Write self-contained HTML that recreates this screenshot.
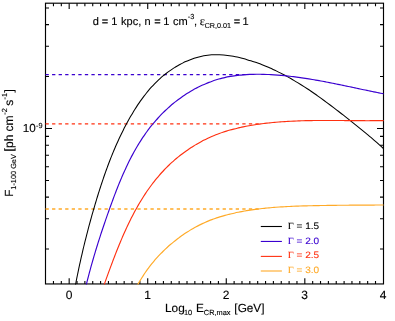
<!DOCTYPE html>
<html><head><meta charset="utf-8"><title>plot</title>
<style>html,body{margin:0;padding:0;background:#fff;overflow:hidden}svg{display:block}</style></head>
<body>
<svg width="395" height="321" viewBox="0 0 395 321" style="display:block">
<rect width="395" height="321" fill="#fff"/>
<defs><clipPath id="cp"><rect x="45.00" y="2.70" width="338.60" height="281.80"/></clipPath></defs>
<rect x="45.50" y="3.20" width="338.00" height="280.75" fill="none" stroke="#000" stroke-width="1.15"/>
<path d="M53.46 283.95 v-3.00 M53.46 3.20 v3.00 M61.32 283.95 v-3.00 M61.32 3.20 v3.00 M69.17 283.95 v-5.80 M69.17 3.20 v5.80 M77.03 283.95 v-3.00 M77.03 3.20 v3.00 M84.88 283.95 v-3.00 M84.88 3.20 v3.00 M92.73 283.95 v-3.00 M92.73 3.20 v3.00 M100.59 283.95 v-3.00 M100.59 3.20 v3.00 M108.44 283.95 v-3.00 M108.44 3.20 v3.00 M116.30 283.95 v-3.00 M116.30 3.20 v3.00 M124.16 283.95 v-3.00 M124.16 3.20 v3.00 M132.01 283.95 v-3.00 M132.01 3.20 v3.00 M139.87 283.95 v-3.00 M139.87 3.20 v3.00 M147.72 283.95 v-5.80 M147.72 3.20 v5.80 M155.57 283.95 v-3.00 M155.57 3.20 v3.00 M163.43 283.95 v-3.00 M163.43 3.20 v3.00 M171.28 283.95 v-3.00 M171.28 3.20 v3.00 M179.14 283.95 v-3.00 M179.14 3.20 v3.00 M187.00 283.95 v-3.00 M187.00 3.20 v3.00 M194.85 283.95 v-3.00 M194.85 3.20 v3.00 M202.70 283.95 v-3.00 M202.70 3.20 v3.00 M210.56 283.95 v-3.00 M210.56 3.20 v3.00 M218.42 283.95 v-3.00 M218.42 3.20 v3.00 M226.27 283.95 v-5.80 M226.27 3.20 v5.80 M234.12 283.95 v-3.00 M234.12 3.20 v3.00 M241.98 283.95 v-3.00 M241.98 3.20 v3.00 M249.83 283.95 v-3.00 M249.83 3.20 v3.00 M257.69 283.95 v-3.00 M257.69 3.20 v3.00 M265.55 283.95 v-3.00 M265.55 3.20 v3.00 M273.40 283.95 v-3.00 M273.40 3.20 v3.00 M281.25 283.95 v-3.00 M281.25 3.20 v3.00 M289.11 283.95 v-3.00 M289.11 3.20 v3.00 M296.96 283.95 v-3.00 M296.96 3.20 v3.00 M304.82 283.95 v-5.80 M304.82 3.20 v5.80 M312.67 283.95 v-3.00 M312.67 3.20 v3.00 M320.53 283.95 v-3.00 M320.53 3.20 v3.00 M328.39 283.95 v-3.00 M328.39 3.20 v3.00 M336.24 283.95 v-3.00 M336.24 3.20 v3.00 M344.10 283.95 v-3.00 M344.10 3.20 v3.00 M351.95 283.95 v-3.00 M351.95 3.20 v3.00 M359.81 283.95 v-3.00 M359.81 3.20 v3.00 M367.66 283.95 v-3.00 M367.66 3.20 v3.00 M375.51 283.95 v-3.00 M375.51 3.20 v3.00 M45.50 249.07 h3.50 M383.50 249.07 h-3.50 M45.50 218.70 h3.50 M383.50 218.70 h-3.50 M45.50 197.14 h3.50 M383.50 197.14 h-3.50 M45.50 180.43 h3.50 M383.50 180.43 h-3.50 M45.50 166.77 h3.50 M383.50 166.77 h-3.50 M45.50 155.22 h3.50 M383.50 155.22 h-3.50 M45.50 145.22 h3.50 M383.50 145.22 h-3.50 M45.50 136.39 h3.50 M383.50 136.39 h-3.50 M45.50 128.50 h6.50 M383.50 128.50 h-6.50 M45.50 76.57 h3.50 M383.50 76.57 h-3.50 M45.50 46.20 h3.50 M383.50 46.20 h-3.50 M45.50 24.64 h3.50 M383.50 24.64 h-3.50 M45.50 7.93 h3.50 M383.50 7.93 h-3.50" stroke="#000" stroke-width="1.1" fill="none"/>
<line x1="45.50" y1="74.55" x2="246.00" y2="74.55" stroke="#3a00d0" stroke-width="1.15" stroke-dasharray="3.3 3.26"/>
<line x1="45.50" y1="123.95" x2="260.50" y2="123.95" stroke="#ff3010" stroke-width="1.3" stroke-dasharray="3.3 3.26"/>
<line x1="45.50" y1="209.00" x2="261.00" y2="209.00" stroke="#ffaa28" stroke-width="1.3" stroke-dasharray="3.3 3.26"/>
<g clip-path="url(#cp)" fill="none" stroke-width="1.2" stroke-linejoin="round">
<path d="M74.54 289.91 C74.66 289.26 75.02 287.30 75.27 285.99 C75.52 284.68 75.78 283.38 76.03 282.07 C76.28 280.76 76.54 279.45 76.80 278.15 C77.06 276.84 77.33 275.54 77.60 274.24 C77.87 272.94 78.14 271.64 78.41 270.34 C78.68 269.04 78.96 267.73 79.24 266.43 C79.52 265.13 79.81 263.84 80.09 262.54 C80.38 261.24 80.66 259.95 80.95 258.65 C81.24 257.35 81.54 256.06 81.84 254.76 C82.14 253.47 82.44 252.17 82.74 250.88 C83.04 249.59 83.35 248.29 83.66 247.00 C83.97 245.71 84.28 244.42 84.60 243.13 C84.92 241.84 85.24 240.55 85.56 239.26 C85.88 237.97 86.21 236.68 86.54 235.39 C86.87 234.10 87.21 232.82 87.54 231.54 C87.88 230.25 88.21 228.97 88.55 227.68 C88.89 226.40 89.23 225.11 89.58 223.83 C89.93 222.55 90.28 221.27 90.63 219.99 C90.98 218.71 91.34 217.42 91.70 216.14 C92.06 214.86 92.42 213.59 92.79 212.31 C93.16 211.03 93.53 209.76 93.90 208.48 C94.27 207.20 94.64 205.93 95.02 204.65 C95.40 203.38 95.78 202.10 96.16 200.83 C96.54 199.56 96.93 198.28 97.32 197.01 C97.71 195.74 98.10 194.46 98.50 193.19 C98.90 191.92 99.30 190.66 99.71 189.39 C100.11 188.12 100.52 186.85 100.93 185.59 C101.34 184.33 101.77 183.06 102.19 181.80 C102.61 180.54 103.04 179.28 103.47 178.02 C103.90 176.76 104.33 175.50 104.77 174.25 C105.21 173.00 105.66 171.74 106.11 170.49 C106.56 169.24 107.02 167.99 107.48 166.74 C107.94 165.49 108.41 164.25 108.88 163.01 C109.35 161.77 109.83 160.53 110.32 159.29 C110.80 158.05 111.29 156.81 111.79 155.58 C112.29 154.35 112.79 153.13 113.30 151.90 C113.81 150.67 114.33 149.44 114.85 148.22 C115.37 147.00 115.90 145.78 116.44 144.57 C116.98 143.36 117.52 142.15 118.07 140.94 C118.62 139.73 119.18 138.52 119.75 137.32 C120.32 136.12 120.89 134.92 121.47 133.73 C122.05 132.54 122.64 131.35 123.24 130.16 C123.84 128.97 124.44 127.79 125.06 126.61 C125.68 125.43 126.30 124.25 126.93 123.08 C127.56 121.91 128.20 120.74 128.85 119.58 C129.50 118.42 130.16 117.25 130.83 116.10 C131.50 114.95 132.17 113.80 132.86 112.66 C133.55 111.52 134.24 110.39 134.95 109.26 C135.66 108.13 136.38 107.01 137.11 105.90 C137.84 104.79 138.59 103.67 139.34 102.58 C140.09 101.48 140.86 100.41 141.64 99.33 C142.42 98.25 143.21 97.19 144.01 96.13 C144.81 95.07 145.63 94.03 146.46 93.00 C147.29 91.97 148.13 90.95 148.99 89.95 C149.85 88.95 150.72 87.95 151.61 86.97 C152.50 85.99 153.40 85.03 154.32 84.08 C155.24 83.13 156.17 82.19 157.12 81.27 C158.07 80.35 159.03 79.45 160.01 78.57 C160.99 77.68 161.99 76.81 163.01 75.96 C164.03 75.11 165.06 74.28 166.11 73.47 C167.16 72.66 168.23 71.85 169.31 71.08 C170.39 70.31 171.64 69.47 172.61 68.83 C173.58 68.19 174.29 67.75 175.14 67.22 C175.99 66.69 176.85 66.18 177.72 65.68 C178.59 65.18 179.47 64.70 180.35 64.23 C181.23 63.76 182.13 63.31 183.03 62.87 C183.93 62.43 184.84 62.00 185.75 61.59 C186.66 61.18 187.42 60.84 188.50 60.41 C189.58 59.97 190.99 59.43 192.24 58.98 C193.50 58.53 194.76 58.11 196.03 57.72 C197.30 57.33 198.59 56.98 199.88 56.66 C201.17 56.34 202.47 56.05 203.77 55.81 C205.07 55.57 206.38 55.36 207.69 55.20 C209.00 55.04 210.32 54.92 211.64 54.83 C212.96 54.74 214.29 54.70 215.61 54.68 C216.94 54.66 218.27 54.69 219.59 54.74 C220.91 54.79 222.24 54.88 223.56 55.00 C224.88 55.12 226.21 55.26 227.53 55.43 C228.85 55.60 230.17 55.80 231.48 56.02 C232.79 56.24 234.10 56.49 235.41 56.75 C236.72 57.01 238.02 57.30 239.32 57.60 C240.62 57.90 241.90 58.23 243.19 58.57 C244.48 58.91 245.76 59.26 247.04 59.63 C248.32 60.00 249.59 60.37 250.86 60.77 C252.13 61.17 253.39 61.58 254.65 62.01 C255.91 62.44 257.15 62.88 258.40 63.33 C259.64 63.78 260.88 64.26 262.12 64.74 C263.36 65.22 264.58 65.71 265.81 66.22 C267.04 66.73 268.25 67.26 269.47 67.79 C270.69 68.32 271.90 68.86 273.10 69.42 C274.31 69.98 275.51 70.55 276.70 71.13 C277.89 71.71 279.08 72.30 280.26 72.90 C281.44 73.50 282.62 74.11 283.80 74.73 C284.98 75.35 286.15 75.99 287.31 76.63 C288.47 77.27 289.63 77.92 290.78 78.58 C291.93 79.24 293.09 79.91 294.23 80.58 C295.37 81.25 296.51 81.94 297.64 82.63 C298.77 83.32 299.90 84.02 301.03 84.73 C302.15 85.44 303.27 86.15 304.39 86.87 C305.50 87.59 306.61 88.32 307.72 89.05 C308.83 89.78 309.93 90.52 311.03 91.27 C312.13 92.02 313.22 92.76 314.31 93.52 C315.40 94.28 316.50 95.04 317.58 95.81 C318.66 96.58 319.74 97.35 320.82 98.13 C321.90 98.91 322.97 99.69 324.04 100.47 C325.11 101.25 326.18 102.05 327.25 102.84 C328.32 103.63 329.38 104.43 330.44 105.23 C331.50 106.03 332.56 106.83 333.62 107.64 C334.68 108.45 335.73 109.26 336.78 110.07 C337.83 110.88 338.89 111.70 339.94 112.51 C340.99 113.33 342.03 114.14 343.08 114.96 C344.12 115.78 345.17 116.60 346.21 117.42 C347.25 118.24 348.30 119.07 349.34 119.89 C350.38 120.71 351.42 121.53 352.46 122.36 C353.50 123.19 354.53 124.01 355.57 124.84 C356.61 125.67 357.64 126.50 358.67 127.33 C359.70 128.16 360.73 128.99 361.76 129.83 C362.79 130.67 363.82 131.51 364.84 132.35 C365.86 133.19 366.88 134.04 367.90 134.89 C368.92 135.74 369.93 136.59 370.94 137.45 C371.95 138.31 372.96 139.18 373.96 140.05 C374.96 140.92 375.96 141.79 376.96 142.67 C377.95 143.55 378.94 144.43 379.93 145.32 C380.92 146.21 381.90 147.11 382.88 148.01 C383.86 148.91 384.95 149.94 385.80 150.74 C386.65 151.54 387.37 152.24 387.97 152.82 C388.57 153.40 389.17 153.99 389.41 154.22" stroke="#000000" stroke-width="1.05"/>
<path d="M85.02 289.95 C85.16 289.38 85.57 287.66 85.85 286.52 C86.13 285.38 86.41 284.24 86.69 283.10 C86.97 281.96 87.26 280.82 87.55 279.69 C87.84 278.56 88.14 277.43 88.43 276.30 C88.73 275.17 89.02 274.04 89.32 272.91 C89.62 271.79 89.92 270.67 90.23 269.55 C90.54 268.43 90.84 267.31 91.15 266.19 C91.46 265.07 91.77 263.95 92.09 262.84 C92.41 261.72 92.73 260.61 93.05 259.50 C93.37 258.39 93.69 257.28 94.02 256.17 C94.35 255.06 94.68 253.95 95.01 252.85 C95.34 251.75 95.68 250.64 96.01 249.54 C96.34 248.44 96.68 247.33 97.02 246.23 C97.36 245.13 97.70 244.03 98.05 242.93 C98.40 241.83 98.75 240.74 99.10 239.64 C99.45 238.54 99.80 237.44 100.16 236.34 C100.52 235.24 100.87 234.15 101.23 233.05 C101.59 231.96 101.95 230.87 102.32 229.77 C102.68 228.68 103.05 227.57 103.42 226.48 C103.79 225.38 104.16 224.29 104.53 223.20 C104.90 222.11 105.28 221.01 105.66 219.92 C106.04 218.82 106.42 217.72 106.80 216.63 C107.18 215.53 107.56 214.44 107.95 213.35 C108.34 212.25 108.73 211.16 109.12 210.06 C109.51 208.96 109.91 207.87 110.30 206.77 C110.69 205.67 111.09 204.58 111.49 203.48 C111.89 202.38 112.30 201.28 112.70 200.18 C113.11 199.08 113.51 198.00 113.92 196.90 C114.33 195.81 114.75 194.71 115.17 193.61 C115.59 192.52 116.01 191.42 116.43 190.33 C116.86 189.24 117.29 188.15 117.72 187.06 C118.15 185.97 118.59 184.88 119.03 183.79 C119.47 182.70 119.93 181.62 120.38 180.54 C120.83 179.46 121.29 178.38 121.75 177.30 C122.21 176.22 122.68 175.15 123.15 174.08 C123.62 173.01 124.10 171.94 124.58 170.87 C125.06 169.80 125.55 168.74 126.05 167.68 C126.55 166.62 127.04 165.56 127.55 164.51 C128.06 163.46 128.57 162.41 129.09 161.36 C129.61 160.32 130.14 159.28 130.67 158.24 C131.20 157.20 131.74 156.17 132.29 155.14 C132.84 154.11 133.40 153.09 133.96 152.07 C134.52 151.05 135.09 150.03 135.67 149.02 C136.25 148.01 136.84 147.01 137.43 146.01 C138.03 145.01 138.63 144.02 139.24 143.03 C139.85 142.04 140.47 141.06 141.10 140.09 C141.73 139.12 142.36 138.14 143.01 137.18 C143.66 136.22 144.31 135.26 144.98 134.31 C145.65 133.36 146.32 132.42 147.01 131.48 C147.69 130.54 148.39 129.61 149.09 128.69 C149.79 127.77 150.50 126.86 151.23 125.95 C151.95 125.04 152.69 124.14 153.44 123.25 C154.19 122.36 154.93 121.47 155.70 120.60 C156.47 119.72 157.25 118.86 158.04 118.00 C158.83 117.14 159.62 116.29 160.43 115.45 C161.24 114.61 162.05 113.77 162.88 112.95 C163.71 112.13 164.54 111.31 165.39 110.51 C166.23 109.71 167.09 108.91 167.95 108.13 C168.81 107.35 169.69 106.57 170.57 105.81 C171.45 105.05 172.34 104.30 173.24 103.56 C174.14 102.82 175.05 102.09 175.97 101.37 C176.89 100.65 177.82 99.94 178.75 99.25 C179.68 98.56 180.62 97.87 181.57 97.20 C182.52 96.53 183.48 95.88 184.45 95.23 C185.42 94.59 186.39 93.95 187.37 93.33 C188.35 92.71 189.34 92.10 190.33 91.51 C191.33 90.92 192.33 90.33 193.34 89.77 C194.35 89.20 195.38 88.66 196.40 88.12 C197.43 87.58 198.45 87.06 199.49 86.55 C200.53 86.04 201.57 85.55 202.62 85.07 C203.67 84.59 204.73 84.12 205.79 83.67 C206.85 83.22 207.93 82.79 209.00 82.37 C210.07 81.95 211.15 81.56 212.24 81.17 C213.33 80.78 214.42 80.41 215.52 80.06 C216.62 79.71 217.72 79.38 218.83 79.06 C219.94 78.74 221.05 78.43 222.17 78.15 C223.29 77.87 224.41 77.61 225.54 77.36 C226.67 77.11 227.80 76.88 228.94 76.66 C230.08 76.44 231.22 76.25 232.36 76.07 C233.51 75.89 234.66 75.72 235.81 75.57 C236.96 75.42 238.11 75.28 239.27 75.16 C240.43 75.04 241.59 74.93 242.75 74.84 C243.91 74.75 245.08 74.67 246.24 74.60 C247.41 74.53 248.57 74.48 249.74 74.43 C250.91 74.38 252.07 74.34 253.24 74.32 C254.41 74.29 255.58 74.28 256.75 74.28 C257.92 74.28 259.08 74.28 260.25 74.29 C261.42 74.30 262.58 74.32 263.75 74.35 C264.92 74.38 266.08 74.42 267.24 74.47 C268.40 74.52 269.57 74.57 270.73 74.63 C271.89 74.69 273.06 74.75 274.22 74.83 C275.38 74.91 276.54 74.99 277.70 75.08 C278.86 75.17 280.02 75.27 281.18 75.37 C282.34 75.47 283.50 75.58 284.65 75.69 C285.80 75.80 286.96 75.93 288.11 76.06 C289.26 76.19 290.42 76.31 291.57 76.45 C292.72 76.59 293.88 76.73 295.03 76.88 C296.18 77.03 297.33 77.19 298.48 77.35 C299.63 77.51 300.78 77.67 301.93 77.84 C303.08 78.01 304.22 78.18 305.37 78.36 C306.52 78.54 307.66 78.72 308.81 78.90 C309.96 79.09 311.11 79.28 312.25 79.47 C313.39 79.66 314.54 79.86 315.68 80.06 C316.82 80.26 317.97 80.46 319.11 80.67 C320.25 80.88 321.40 81.09 322.54 81.30 C323.68 81.51 324.82 81.73 325.96 81.95 C327.10 82.17 328.24 82.39 329.38 82.61 C330.52 82.83 331.66 83.06 332.80 83.29 C333.94 83.52 335.08 83.74 336.22 83.97 C337.36 84.20 338.49 84.44 339.63 84.67 C340.77 84.91 341.91 85.14 343.05 85.38 C344.19 85.62 345.32 85.85 346.46 86.09 C347.60 86.33 348.74 86.57 349.88 86.81 C351.02 87.05 352.15 87.29 353.29 87.53 C354.43 87.77 355.56 88.01 356.70 88.25 C357.84 88.49 358.97 88.74 360.11 88.98 C361.25 89.22 362.39 89.46 363.53 89.70 C364.67 89.94 365.80 90.17 366.94 90.41 C368.08 90.65 369.22 90.89 370.36 91.13 C371.50 91.37 372.63 91.60 373.77 91.83 C374.91 92.06 376.05 92.30 377.19 92.53 C378.33 92.76 379.47 92.98 380.61 93.21 C381.75 93.43 382.89 93.66 384.03 93.88 C385.17 94.10 386.46 94.35 387.46 94.54 C388.46 94.73 389.60 94.95 390.03 95.03" stroke="#3a00d0" stroke-width="1.15"/>
<path d="M102.33 289.76 C102.53 289.19 103.15 287.47 103.56 286.32 C103.97 285.17 104.39 284.01 104.81 282.86 C105.23 281.71 105.64 280.55 106.06 279.39 C106.48 278.23 106.90 277.07 107.32 275.91 C107.74 274.75 108.16 273.58 108.59 272.41 C109.02 271.24 109.45 270.08 109.88 268.91 C110.31 267.74 110.79 266.44 111.18 265.39 C111.57 264.33 111.88 263.52 112.23 262.58 C112.58 261.64 112.93 260.71 113.29 259.77 C113.65 258.83 114.01 257.89 114.37 256.95 C114.73 256.01 115.09 255.08 115.46 254.14 C115.83 253.20 116.20 252.26 116.57 251.32 C116.94 250.38 117.31 249.44 117.69 248.51 C118.06 247.57 118.44 246.64 118.82 245.71 C119.20 244.78 119.59 243.84 119.98 242.91 C120.37 241.98 120.76 241.04 121.15 240.11 C121.54 239.18 121.94 238.25 122.34 237.32 C122.74 236.39 123.14 235.46 123.55 234.54 C123.96 233.62 124.36 232.69 124.78 231.77 C125.20 230.85 125.62 229.93 126.04 229.01 C126.46 228.09 126.88 227.18 127.31 226.27 C127.74 225.36 128.17 224.44 128.61 223.53 C129.05 222.62 129.49 221.71 129.94 220.81 C130.39 219.91 130.83 219.01 131.29 218.11 C131.75 217.21 132.21 216.31 132.67 215.42 C133.13 214.53 133.60 213.64 134.07 212.75 C134.54 211.86 135.03 210.97 135.51 210.09 C135.99 209.21 136.48 208.33 136.97 207.46 C137.46 206.59 137.96 205.72 138.46 204.85 C138.96 203.98 139.48 203.12 139.99 202.26 C140.50 201.40 140.95 200.65 141.54 199.69 C142.13 198.73 142.87 197.57 143.54 196.52 C144.21 195.47 144.89 194.42 145.58 193.38 C146.27 192.34 146.97 191.31 147.68 190.29 C148.39 189.27 149.11 188.25 149.84 187.24 C150.57 186.23 151.31 185.23 152.06 184.24 C152.81 183.25 153.57 182.26 154.34 181.29 C155.11 180.31 155.89 179.35 156.68 178.39 C157.47 177.43 158.27 176.48 159.08 175.54 C159.89 174.60 160.72 173.67 161.55 172.75 C162.39 171.83 163.23 170.91 164.09 170.01 C164.95 169.11 165.82 168.22 166.70 167.34 C167.58 166.46 168.47 165.59 169.38 164.73 C170.28 163.87 171.30 162.94 172.13 162.18 C172.96 161.42 173.62 160.85 174.37 160.19 C175.12 159.53 175.89 158.88 176.66 158.24 C177.43 157.60 178.20 156.97 178.98 156.34 C179.76 155.72 180.56 155.10 181.35 154.49 C182.14 153.88 182.94 153.28 183.75 152.68 C184.56 152.09 185.37 151.50 186.19 150.92 C187.01 150.34 187.84 149.77 188.67 149.21 C189.50 148.65 190.34 148.10 191.18 147.55 C192.02 147.00 192.87 146.47 193.72 145.94 C194.57 145.41 195.44 144.90 196.30 144.39 C197.16 143.88 198.03 143.38 198.90 142.89 C199.77 142.40 200.66 141.91 201.54 141.44 C202.42 140.97 203.31 140.50 204.20 140.05 C205.09 139.60 206.00 139.15 206.90 138.72 C207.80 138.29 208.71 137.86 209.62 137.45 C210.53 137.04 211.33 136.68 212.36 136.24 C213.40 135.80 214.67 135.27 215.83 134.81 C216.99 134.35 218.16 133.91 219.33 133.48 C220.50 133.05 221.69 132.64 222.87 132.25 C224.06 131.86 225.25 131.48 226.44 131.12 C227.63 130.76 228.83 130.41 230.03 130.07 C231.23 129.73 232.44 129.41 233.65 129.10 C234.86 128.79 236.19 128.46 237.29 128.20 C238.38 127.94 239.24 127.75 240.22 127.53 C241.20 127.31 242.17 127.10 243.15 126.90 C244.13 126.70 245.11 126.50 246.09 126.31 C247.07 126.12 248.06 125.93 249.04 125.75 C250.02 125.57 251.01 125.40 252.00 125.23 C252.99 125.06 253.97 124.91 254.96 124.75 C255.95 124.59 256.94 124.44 257.93 124.30 C258.92 124.16 259.92 124.02 260.91 123.89 C261.90 123.76 262.90 123.62 263.89 123.50 C264.88 123.38 265.88 123.25 266.87 123.14 C267.87 123.03 268.86 122.92 269.86 122.82 C270.86 122.72 271.85 122.61 272.85 122.52 C273.85 122.42 274.84 122.34 275.84 122.25 C276.84 122.16 277.84 122.08 278.84 122.00 C279.84 121.92 280.83 121.84 281.83 121.77 C282.83 121.70 283.83 121.63 284.83 121.57 C285.83 121.51 286.83 121.45 287.83 121.39 C288.83 121.33 289.83 121.27 290.83 121.22 C291.83 121.17 292.83 121.12 293.83 121.08 C294.83 121.03 295.83 120.99 296.83 120.95 C297.83 120.91 298.84 120.88 299.84 120.85 C300.84 120.82 301.84 120.78 302.84 120.75 C303.84 120.72 304.84 120.70 305.84 120.68 C306.84 120.66 307.85 120.63 308.85 120.61 C309.85 120.59 310.85 120.58 311.85 120.56 C312.85 120.55 313.86 120.53 314.86 120.52 C315.86 120.51 316.86 120.50 317.86 120.49 C318.86 120.48 319.87 120.48 320.87 120.48 C321.87 120.48 322.87 120.47 323.87 120.47 C324.87 120.47 325.88 120.46 326.88 120.46 C327.88 120.46 328.89 120.47 329.89 120.47 C330.89 120.47 331.89 120.48 332.89 120.48 C333.89 120.48 334.90 120.49 335.90 120.50 C336.90 120.51 337.91 120.51 338.91 120.52 C339.91 120.53 340.91 120.53 341.91 120.54 C342.91 120.55 343.92 120.55 344.92 120.56 C345.92 120.57 346.93 120.58 347.93 120.59 C348.93 120.60 349.94 120.60 350.94 120.61 C351.94 120.62 352.94 120.63 353.94 120.64 C354.94 120.65 355.95 120.65 356.95 120.66 C357.95 120.67 358.95 120.68 359.95 120.68 C360.95 120.69 361.96 120.69 362.96 120.69 C363.96 120.69 364.97 120.70 365.97 120.70 C366.97 120.70 367.97 120.70 368.97 120.70 C369.97 120.70 370.98 120.69 371.98 120.69 C372.98 120.69 373.98 120.69 374.98 120.68 C375.98 120.68 376.98 120.67 377.98 120.66 C378.98 120.65 379.99 120.64 380.99 120.63 C381.99 120.62 382.99 120.60 383.99 120.58 C384.99 120.56 385.99 120.54 386.99 120.52 C387.99 120.50 389.49 120.46 389.99 120.45" stroke="#ff3010" stroke-width="1.15"/>
<path d="M135.01 290.03 C135.27 289.51 136.04 287.96 136.57 286.94 C137.10 285.92 137.65 284.90 138.21 283.90 C138.77 282.89 139.34 281.90 139.92 280.91 C140.50 279.92 141.09 278.94 141.70 277.96 C142.31 276.98 142.92 276.02 143.55 275.06 C144.18 274.10 144.83 273.15 145.48 272.21 C146.13 271.27 146.79 270.34 147.46 269.41 C148.13 268.49 148.82 267.57 149.52 266.66 C150.22 265.75 150.92 264.85 151.64 263.96 C152.36 263.07 153.08 262.19 153.82 261.31 C154.56 260.44 155.30 259.57 156.06 258.71 C156.82 257.85 157.58 257.01 158.36 256.17 C159.14 255.33 159.93 254.50 160.73 253.68 C161.53 252.86 162.34 252.04 163.15 251.24 C163.97 250.44 164.79 249.64 165.62 248.86 C166.45 248.08 167.30 247.30 168.15 246.54 C169.00 245.78 169.87 245.03 170.74 244.28 C171.61 243.53 172.49 242.80 173.38 242.07 C174.27 241.34 175.16 240.62 176.07 239.92 C176.97 239.21 177.89 238.53 178.81 237.84 C179.73 237.16 180.65 236.47 181.59 235.81 C182.53 235.15 183.48 234.49 184.43 233.85 C185.38 233.21 186.34 232.57 187.31 231.95 C188.28 231.33 189.26 230.72 190.24 230.13 C191.22 229.53 192.20 228.95 193.20 228.38 C194.20 227.81 195.21 227.25 196.22 226.71 C197.23 226.17 198.25 225.63 199.27 225.12 C200.30 224.61 201.33 224.11 202.37 223.62 C203.41 223.13 204.45 222.66 205.50 222.20 C206.55 221.74 207.61 221.31 208.67 220.88 C209.73 220.45 210.80 220.03 211.87 219.63 C212.94 219.23 214.03 218.84 215.11 218.47 C216.19 218.09 217.28 217.73 218.37 217.38 C219.46 217.03 220.55 216.70 221.65 216.37 C222.75 216.04 223.85 215.72 224.96 215.42 C226.07 215.11 227.18 214.82 228.29 214.54 C229.40 214.26 230.51 213.99 231.63 213.72 C232.75 213.45 233.86 213.20 234.98 212.95 C236.10 212.70 237.23 212.47 238.35 212.24 C239.47 212.01 240.59 211.79 241.72 211.58 C242.84 211.37 243.97 211.16 245.10 210.96 C246.23 210.76 247.36 210.58 248.49 210.40 C249.62 210.22 250.75 210.04 251.88 209.87 C253.01 209.70 254.15 209.54 255.29 209.39 C256.43 209.24 257.56 209.09 258.70 208.95 C259.84 208.81 260.97 208.68 262.11 208.55 C263.25 208.42 264.39 208.31 265.53 208.19 C266.67 208.07 267.82 207.96 268.96 207.85 C270.10 207.74 271.25 207.65 272.39 207.55 C273.53 207.46 274.68 207.37 275.82 207.28 C276.96 207.19 278.11 207.12 279.26 207.04 C280.41 206.96 281.55 206.89 282.70 206.82 C283.85 206.75 284.99 206.69 286.14 206.63 C287.29 206.57 288.44 206.52 289.59 206.46 C290.74 206.41 291.88 206.35 293.03 206.30 C294.18 206.25 295.33 206.21 296.48 206.17 C297.63 206.13 298.77 206.09 299.92 206.05 C301.07 206.01 302.22 205.97 303.37 205.94 C304.52 205.91 305.67 205.87 306.82 205.84 C307.97 205.81 309.11 205.79 310.26 205.76 C311.41 205.73 312.56 205.71 313.71 205.68 C314.86 205.65 316.00 205.62 317.15 205.60 C318.30 205.58 319.44 205.56 320.59 205.54 C321.74 205.52 322.88 205.50 324.03 205.48 C325.18 205.46 326.32 205.45 327.47 205.43 C328.62 205.41 329.76 205.39 330.91 205.38 C332.06 205.37 333.20 205.35 334.35 205.34 C335.50 205.33 336.64 205.31 337.79 205.30 C338.94 205.29 340.08 205.28 341.23 205.27 C342.38 205.26 343.53 205.25 344.67 205.24 C345.81 205.23 346.96 205.22 348.10 205.21 C349.25 205.20 350.39 205.19 351.54 205.18 C352.69 205.17 353.83 205.17 354.98 205.16 C356.13 205.15 357.27 205.15 358.42 205.14 C359.57 205.13 360.72 205.13 361.87 205.12 C363.02 205.11 364.16 205.11 365.31 205.10 C366.46 205.09 367.60 205.09 368.75 205.08 C369.90 205.07 371.05 205.07 372.20 205.06 C373.35 205.05 374.49 205.05 375.64 205.04 C376.79 205.03 377.94 205.03 379.09 205.02 C380.24 205.01 381.39 205.00 382.54 204.99 C383.69 204.98 384.84 204.98 385.99 204.97 C387.14 204.96 388.77 204.95 389.44 204.94 C390.11 204.93 389.92 204.93 390.02 204.93" stroke="#ffaa28" stroke-width="1.15"/>
</g>
<g font-family="'Liberation Sans', Arial, Helvetica, sans-serif" font-size="11.80" fill="#000" stroke="#000" stroke-width="0.12" text-rendering="geometricPrecision">
<text x="68.97" y="299.4" text-anchor="middle" font-size="12">0</text>
<text x="147.52" y="299.4" text-anchor="middle" font-size="12">1</text>
<text x="226.07" y="299.4" text-anchor="middle" font-size="12">2</text>
<text x="304.62" y="299.4" text-anchor="middle" font-size="12">3</text>
<text x="383.17" y="299.4" text-anchor="middle" font-size="12">4</text>
<text><tspan x="22.81" y="132.30" font-size="11.70">10</tspan><tspan x="35.98" y="127.80" font-size="7.30">-9</tspan></text>
<text><tspan x="165.03" y="311.65" font-size="11.80">Log</tspan><tspan x="183.94" y="314.75" font-size="7.40">10 </tspan><tspan x="196.03" y="311.65" font-size="11.80">E</tspan><tspan x="203.82" y="314.75" font-size="7.40">CR,max </tspan><tspan x="234.36" y="311.65" font-size="11.80">[GeV]</tspan></text>
<text transform="translate(13.3 200.0) rotate(-90)"><tspan x="3.33" y="0.00" font-size="11.80">F</tspan><tspan x="10.34" y="2.70" font-size="7.35">1-100 GeV </tspan><tspan x="48.64" y="0.00" font-size="12.10">[ph </tspan><tspan x="68.49" y="0.00" font-size="12.10">cm</tspan><tspan x="85.37" y="-6.10" font-size="7.40">-2 </tspan><tspan x="94.36" y="0.00" font-size="12.10">s</tspan><tspan x="100.62" y="-6.10" font-size="7.40">-1</tspan><tspan x="107.51" y="0.00" font-size="12.10">]</tspan></text>
<text><tspan x="92.64" y="25.15" font-size="11.05">d = 1 </tspan><tspan x="121.01" y="25.15" font-size="11.05">kpc, </tspan><tspan x="144.42" y="25.15" font-size="11.05">n </tspan><tspan x="154.21" y="25.15" font-size="11.05">= </tspan><tspan x="163.16" y="25.15" font-size="11.05">1 </tspan><tspan x="172.93" y="25.15" font-size="11.05">cm</tspan><tspan x="187.87" y="19.05" font-size="7.40">-3</tspan><tspan x="194.01" y="25.15" font-size="11.05">, </tspan><tspan x="199.83" y="25.15" font-size="12.20" font-family="'Liberation Serif', 'DejaVu Serif', serif">ε</tspan><tspan x="204.63" y="27.55" font-size="7.20">CR,0.01 </tspan><tspan x="233.76" y="25.15" font-size="11.05">= </tspan><tspan x="242.41" y="25.15" font-size="11.05">1</tspan></text>
</g>
<line x1="260.8" y1="226.50" x2="281.9" y2="226.50" stroke="#000000" stroke-width="1.1"/>
<g font-family="'Liberation Sans', Arial, Helvetica, sans-serif" fill="#000000" stroke="#000000" stroke-width="0.1" text-rendering="geometricPrecision"><text transform="translate(287.70 228.85) scale(1.080 1)" font-size="9.60" font-family="'Liberation Serif', 'DejaVu Serif', serif">Γ </text><text transform="translate(296.41 228.85) scale(1.080 1)" font-size="9.30">= </text><text transform="translate(305.21 228.85) scale(1.080 1)" font-size="9.30">1.5</text></g>
<line x1="260.8" y1="241.45" x2="281.9" y2="241.45" stroke="#3a00d0" stroke-width="1.1"/>
<g font-family="'Liberation Sans', Arial, Helvetica, sans-serif" fill="#3a00d0" stroke="#3a00d0" stroke-width="0.1" text-rendering="geometricPrecision"><text transform="translate(287.70 243.65) scale(1.080 1)" font-size="9.60" font-family="'Liberation Serif', 'DejaVu Serif', serif">Γ </text><text transform="translate(296.41 243.65) scale(1.080 1)" font-size="9.30">= </text><text transform="translate(305.18 243.65) scale(1.080 1)" font-size="9.30">2.0</text></g>
<line x1="260.8" y1="256.40" x2="281.9" y2="256.40" stroke="#ff3010" stroke-width="1.1"/>
<g font-family="'Liberation Sans', Arial, Helvetica, sans-serif" fill="#ff3010" stroke="#ff3010" stroke-width="0.1" text-rendering="geometricPrecision"><text transform="translate(287.70 258.45) scale(1.080 1)" font-size="9.60" font-family="'Liberation Serif', 'DejaVu Serif', serif">Γ </text><text transform="translate(296.41 258.45) scale(1.080 1)" font-size="9.30">= </text><text transform="translate(305.21 258.45) scale(1.080 1)" font-size="9.30">2.5</text></g>
<line x1="260.8" y1="271.00" x2="281.9" y2="271.00" stroke="#ffaa28" stroke-width="1.1"/>
<g font-family="'Liberation Sans', Arial, Helvetica, sans-serif" fill="#ffaa28" stroke="#ffaa28" stroke-width="0.1" text-rendering="geometricPrecision"><text transform="translate(287.70 273.05) scale(1.080 1)" font-size="9.60" font-family="'Liberation Serif', 'DejaVu Serif', serif">Γ </text><text transform="translate(296.41 273.05) scale(1.080 1)" font-size="9.30">= </text><text transform="translate(305.18 273.05) scale(1.080 1)" font-size="9.30">3.0</text></g>
</svg>
</body></html>
